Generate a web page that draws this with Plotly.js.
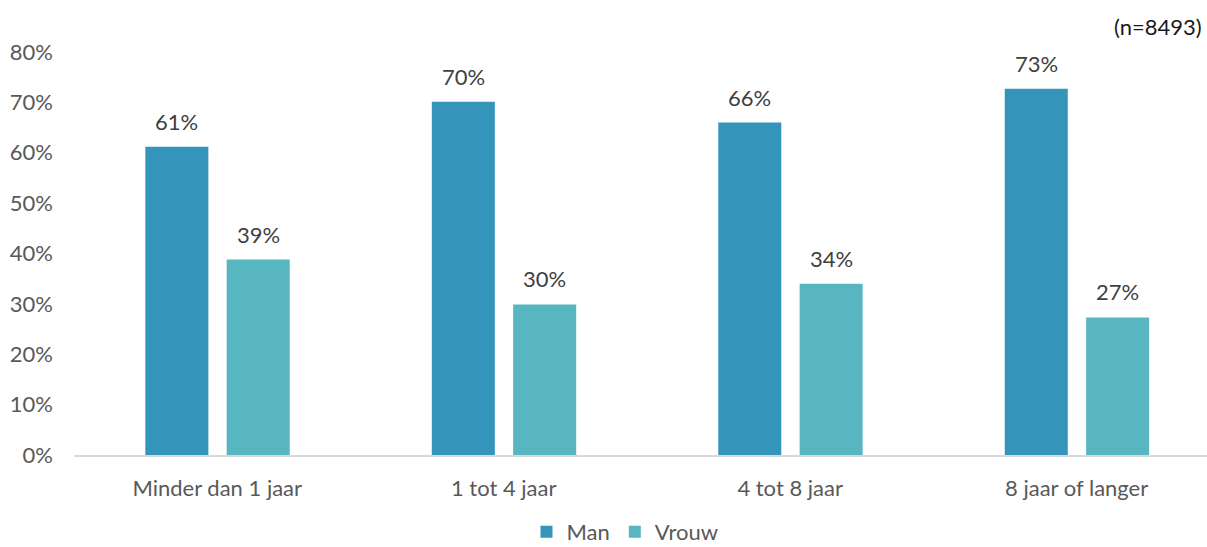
<!DOCTYPE html>
<html>
<head>
<meta charset="utf-8">
<script src="https://cdn.plot.ly/plotly-3.0.1.min.js"></script>
<style>html,body{margin:0;padding:0;background:#fff;}#chart{width:1207px;height:547px;}</style>
</head>
<body>
<div id="chart"></div>
<script>
const categories = ["Minder dan 1 jaar", "1 tot 4 jaar", "4 tot 8 jaar", "8 jaar of langer"];
const manValues = [0.612, 0.701, 0.660, 0.727];
const vrouwValues = [0.388, 0.299, 0.340, 0.273];
const manLabels = ["61%", "70%", "66%", "73%"];
const vrouwLabels = ["39%", "30%", "34%", "27%"];
const yTickVals = [0, 0.1, 0.2, 0.3, 0.4, 0.5, 0.6, 0.7, 0.8];
const yTickText = ["0%", "10%", "20%", "30%", "40%", "50%", "60%", "70%", "80%"];
const noteText = "(n=8493)";

const FONT = "Lato, 'Open Sans', sans-serif";
const FS = 22;
const barW = 0.22;
const manOff = -0.251;
const vrouwOff = 0.033;

const traces = [
  {type: "bar", name: "Man", x: categories, y: manValues, width: barW, offset: manOff,
   marker: {color: "#3494BA"}, hoverinfo: "skip"},
  {type: "bar", name: "Vrouw", x: categories, y: vrouwValues, width: barW, offset: vrouwOff,
   marker: {color: "#58B6C0"}, hoverinfo: "skip"}
];

const annotations = [];
categories.forEach((c, i) => {
  annotations.push({x: i + manOff + barW / 2, y: manValues[i], xref: "x", yref: "y", text: manLabels[i],
    showarrow: false, yanchor: "bottom", yshift: 10, font: {family: FONT, size: FS, color: "#404040"}});
  annotations.push({x: i + vrouwOff + barW / 2, y: vrouwValues[i], xref: "x", yref: "y", text: vrouwLabels[i],
    showarrow: false, yanchor: "bottom", yshift: 10, font: {family: FONT, size: FS, color: "#404040"}});
});
annotations.push({x: 1, y: 1 + 25 / 403, xref: "paper", yref: "paper", text: noteText, showarrow: false,
  xanchor: "right", yanchor: "middle", xshift: -3, font: {family: FONT, size: FS, color: "#1a1a1a"}});

const layout = {
  width: 1207, height: 547,
  margin: {l: 74, r: 0, t: 52, b: 92, autoexpand: false},
  paper_bgcolor: "#ffffff", plot_bgcolor: "#ffffff",
  font: {family: FONT, size: FS, color: "#595959"},
  barmode: "group",
  xaxis: {type: "category", range: [-0.5, 3.455], showgrid: false, zeroline: false, automargin: false,
    showline: true, linecolor: "#d9d9d9", linewidth: 1.5, ticks: "", ticklabelstandoff: 13, tickangle: 0,
    tickfont: {family: FONT, size: FS, color: "#595959"}, fixedrange: true},
  yaxis: {range: [0, 0.8], tickvals: yTickVals, ticktext: yTickText, showgrid: false, automargin: false,
    zeroline: false, showline: false, ticks: "", ticklabelstandoff: 20,
    tickfont: {family: FONT, size: FS, color: "#595959"}, fixedrange: true},
  showlegend: true,
  legend: {orientation: "h", xref: "paper", yref: "paper", x: (625 - 74) / 1133, xanchor: "center",
    y: -77 / 403, yanchor: "middle", font: {family: FONT, size: FS, color: "#595959"},
    itemclick: false, itemdoubleclick: false, traceorder: "normal"},
  annotations: annotations
};

Plotly.newPlot("chart", traces, layout, {displayModeBar: false, staticPlot: true});
</script>
</body>
</html>
